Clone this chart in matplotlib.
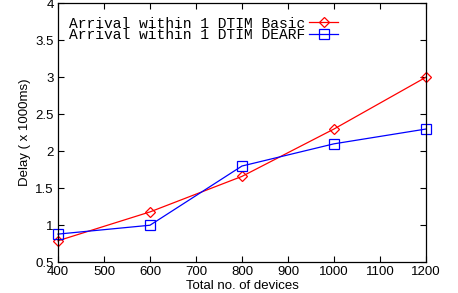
import matplotlib
matplotlib.use("Agg")
import matplotlib.pyplot as plt

devices = [400, 600, 800, 1000, 1200]
delay_basic = [0.79, 1.18, 1.66, 2.30, 3.00]
delay_dearf = [0.88, 1.00, 1.80, 2.10, 2.30]
x_ticks = [400, 500, 600, 700, 800, 900, 1000, 1100, 1200]
y_ticks = [0.5, 1, 1.5, 2, 2.5, 3, 3.5, 4]

plt.rcParams['font.family'] = ['Liberation Sans', 'DejaVu Sans']

fig = plt.figure(figsize=(4.58, 2.93), dpi=100)
ax = fig.add_axes([0.1266, 0.105, 0.8034, 0.884])

ax.plot(devices, delay_basic, color='red', lw=0.9, marker='D', ms=5,
        mfc='none', mec='red', mew=0.9, clip_on=False,
        label='Arrival within 1 DTIM Basic')
ax.plot(devices, delay_dearf, color='blue', lw=0.9, marker='s', ms=7,
        mfc='none', mec='blue', mew=0.9, clip_on=False,
        label='Arrival within 1 DTIM DEARF')

ax.set_xlim(400, 1200)
ax.set_ylim(0.5, 4)
ax.set_xticks(x_ticks)
ax.set_yticks(y_ticks)
ax.set_yticklabels(['0.5', '1', '1.5', '2', '2.5', '3', '3.5', '4'])
ax.tick_params(direction='in', top=True, right=True, length=4, width=0.8,
               labelsize=9.5, pad=3)
for s in ax.spines.values():
    s.set_linewidth(0.9)

ax.set_xlabel('Total no. of devices', fontsize=9.5, labelpad=1)
ax.set_ylabel('Delay ( x 1000ms)', fontsize=9.5, labelpad=3)

leg = ax.legend(loc='upper left', frameon=False, markerfirst=False,
                prop={'family': 'Liberation Mono', 'size': 10.5},
                handlelength=2.0, handletextpad=0.3, labelspacing=-0.15,
                borderaxespad=0.6, bbox_to_anchor=(-0.011, 1.005))

fig.savefig('out.png', dpi=100)
